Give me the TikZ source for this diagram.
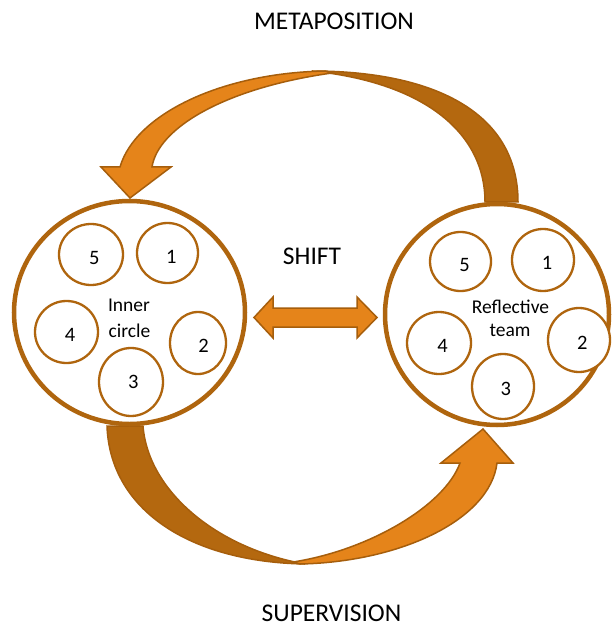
\documentclass[tikz,border=0pt]{standalone}
\usepackage{fontspec}
\setmainfont{Carlito}
\usetikzlibrary{shapes.geometric}
\definecolor{ringc}{HTML}{AF650E}
\definecolor{edgec}{HTML}{A65E0C}
\definecolor{lightf}{HTML}{E5841A}
\definecolor{darkf}{HTML}{B4680F}
\tikzset{
  bigring/.style={ellipse,draw=ringc,line width=4.5pt,fill=white,inner sep=0pt},
  smallring/.style={ellipse,draw=ringc,line width=2.3pt,fill=white,inner sep=0pt},
  digit/.style={anchor=base,inner sep=0pt,font=\fontsize{20.5}{24}\selectfont},
  innertxt/.style={anchor=base,inner sep=0pt,font=\fontsize{19.5}{24}\selectfont},
  titletxt/.style={anchor=base,inner sep=0pt,font=\fontsize{25.5}{30}\selectfont},
  lightarrow/.style={fill=lightf,draw=edgec,line width=1.5pt,line join=miter},
  darkarrow/.style={fill=darkf,draw=edgec,line width=1.5pt,line join=miter}
}
\begin{document}
\begin{tikzpicture}[x=1pt,y=-1pt]
\useasboundingbox (0,0) rectangle (612,628);

% top curved arrow (back part, then front part)
\path[darkarrow] (518,202) .. controls (518,110) and (430,71) .. (312,71)
  .. controls (420,82) and (485,130) .. (485,202) -- cycle;
\path[lightarrow] (325,71) .. controls (220,73) and (135,115) .. (120,167)
  -- (101,167) -- (130,198) -- (171,167) -- (152,167)
  .. controls (158,128) and (225,88) .. (332,73) -- cycle;

% bottom curved arrow (back part, then front part)
\path[darkarrow] (107,426) .. controls (110,510) and (190,562) .. (305,564)
  .. controls (215,548) and (148,490) .. (143,426) -- cycle;
\path[lightarrow] (300,564) .. controls (400,562) and (490,520) .. (497,463)
  -- (513,463) -- (483,429) -- (441,463) -- (460,463)
  .. controls (445,505) and (370,550) .. (293,562) -- cycle;

% shift double arrow
\path[lightarrow] (254,317.5) -- (273,297) -- (273,308) -- (357,308) -- (357,297)
  -- (377,317.5) -- (357,338) -- (357,327) -- (273,327) -- (273,338) -- cycle;

% big circles
\node[bigring,minimum width=231pt,minimum height=223pt] (inner) at (129.5,312.5) {};
\node[bigring,minimum width=224pt,minimum height=221pt] (refl) at (497,314.5) {};

% inner circle members
\node[smallring,minimum width=64pt,minimum height=61pt] (L5) at (91,254.5) {};
\node[smallring,minimum width=61pt,minimum height=60pt] (L1) at (167.5,253) {};
\node[smallring,minimum width=63pt,minimum height=62pt] (L4) at (66.5,332) {};
\node[smallring,minimum width=56pt,minimum height=62pt] (L2) at (198,343) {};
\node[smallring,minimum width=64pt,minimum height=68pt] (L3) at (131,382) {};
\node[digit] (t5) at (94.2,264) {5};
\node[digit] (t1) at (171.3,263.3) {1};
\node[digit] (t4) at (70,341.7) {4};
\node[digit] (t2) at (203.5,352.3) {2};
\node[digit] (t3) at (133.3,388.3) {3};
\node[innertxt] (ia) at (129,311.6) {Inner};
\node[innertxt] (ib) at (129.5,337) {circle};

% reflective team members
\node[smallring,minimum width=61pt,minimum height=59pt] (R5) at (460.5,261.5) {};
\node[smallring,minimum width=62pt,minimum height=62pt] (R1) at (543,260) {};
\node[smallring,minimum width=64pt,minimum height=62pt] (R4) at (439,343) {};
\node[smallring,minimum width=62pt,minimum height=64pt] (R2) at (579,340) {};
\node[smallring,minimum width=62pt,minimum height=65pt] (R3) at (503,386.5) {};
\node[digit] (s5) at (464.5,271.7) {5};
\node[digit] (s1) at (547,269.3) {1};
\node[digit] (s4) at (442.5,352.3) {4};
\node[digit] (s2) at (582.3,349.3) {2};
\node[digit] (s3) at (505.7,395) {3};
\node[innertxt] (ra) at (510.5,313.3) {Reflective};
\node[innertxt] (rb) at (510,336.7) {team};

% titles
\node[titletxt] (meta) at (334,29.3) {METAPOSITION};
\node[titletxt] (shift) at (312,264.3) {SHIFT};
\node[titletxt] (sup) at (331.5,621.7) {SUPERVISION};
\end{tikzpicture}
\end{document}
